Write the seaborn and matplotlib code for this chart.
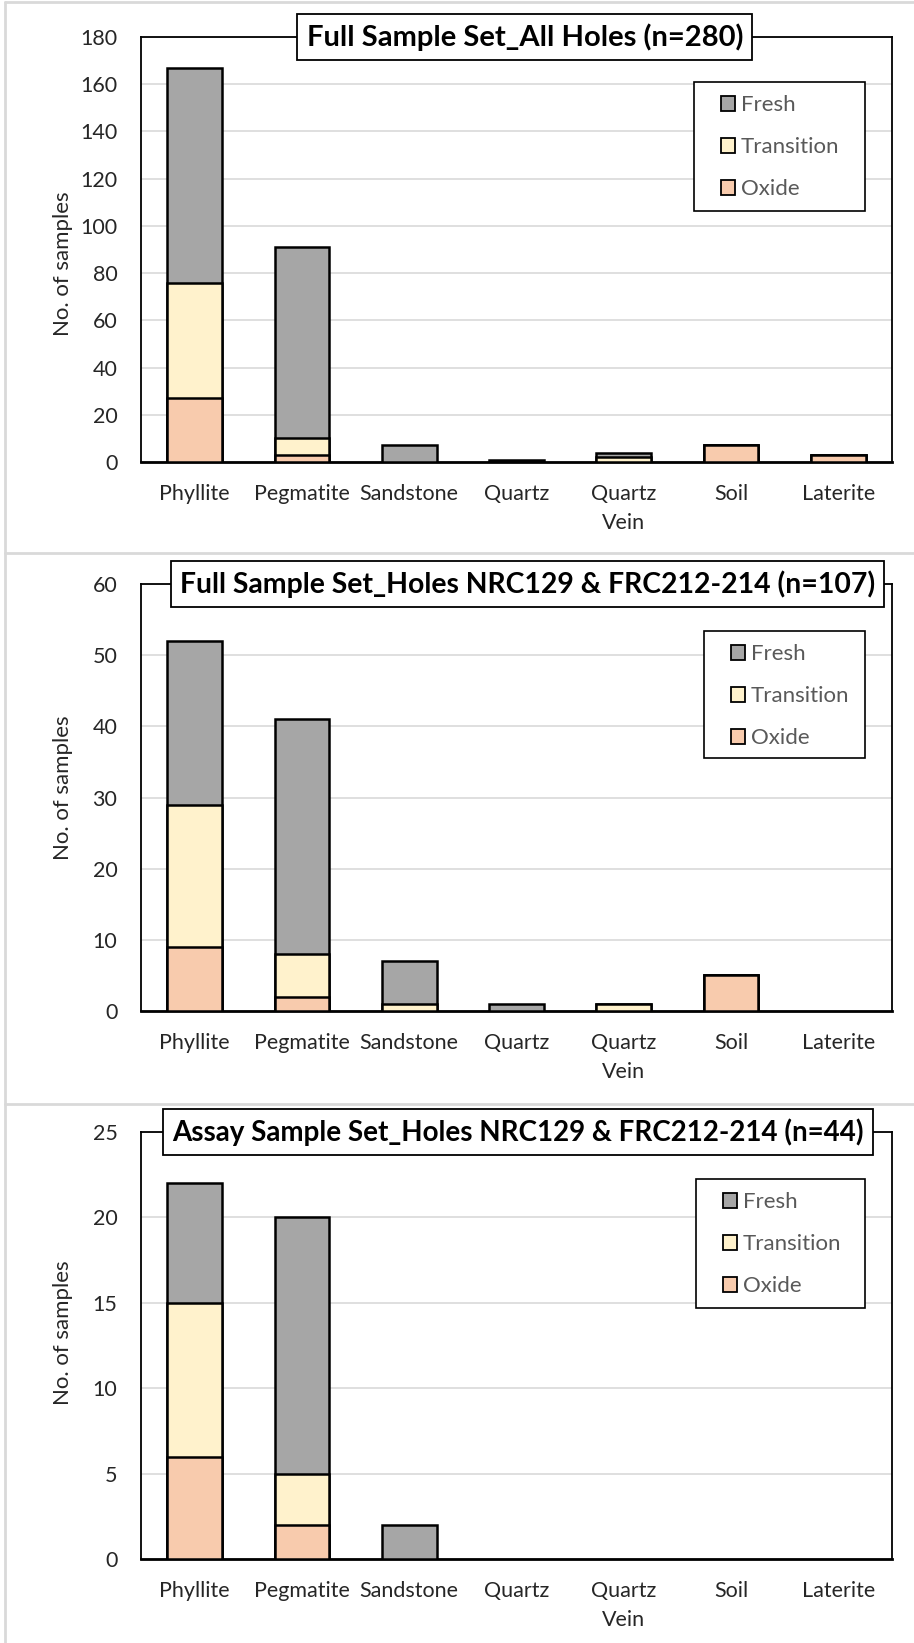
import numpy as np
import pandas as pd
import matplotlib
matplotlib.use("Agg")
import matplotlib.pyplot as plt
from matplotlib.patches import Patch, Rectangle
from matplotlib.lines import Line2D
import seaborn as sns

categories = ["Phyllite", "Pegmatite", "Sandstone", "Quartz", "Quartz\nVein", "Soil", "Laterite"]
classes = ["Fresh", "Transition", "Oxide"]

# Panel 1: all holes
p1_oxide = [27, 3, 0, 0, 0, 7, 3]
p1_transition = [49, 7, 0, 0, 2, 0, 0]
p1_fresh = [91, 81, 7, 1, 2, 0, 0]

# Panel 2: holes NRC129 & FRC212-214
p2_oxide = [9, 2, 0, 0, 0, 5, 0]
p2_transition = [20, 6, 1, 0, 1, 0, 0]
p2_fresh = [23, 33, 6, 1, 0, 0, 0]

# Panel 3: assay samples, holes NRC129 & FRC212-214
p3_oxide = [6, 2, 0, 0, 0, 0, 0]
p3_transition = [9, 3, 0, 0, 0, 0, 0]
p3_fresh = [7, 15, 2, 0, 0, 0, 0]

titles = [
    "Full Sample Set_All Holes (n=280)",
    "Full Sample Set_Holes NRC129 & FRC212-214 (n=107)",
    "Assay Sample Set_Holes NRC129 & FRC212-214 (n=44)",
]
y_max = [180, 60, 25]
y_step = [20, 10, 5]

colors = {"Fresh": "#a6a6a6", "Transition": "#fff2cc", "Oxide": "#f8cbad"}
text_color = "#262626"

sns.set_theme(style="white")
plt.rcParams["font.family"] = ["Lato", "DejaVu Sans"]

W, H = 914, 1643
fig = plt.figure(figsize=(W / 100, H / 100), dpi=100)

panels = [
    (p1_oxide, p1_transition, p1_fresh),
    (p2_oxide, p2_transition, p2_fresh),
    (p3_oxide, p3_transition, p3_fresh),
]
# plot areas in pixels: left, top, right, bottom
plot_px = [(141, 37, 892, 462), (141, 584, 892, 1011), (141, 1132, 892, 1559)]
# legend boxes in pixels: left, top, right, bottom
legend_px = [(694, 82, 865, 211), (704, 631, 865, 758), (696, 1179, 865, 1308)]
title_x = [0.511, 0.515, 0.502]
title_size = [21.0, 20.4, 20.0]
ylabel_y = [0.466, 0.522, 0.529]

for i, (oxide, transition, fresh) in enumerate(panels):
    l, t, r, b = plot_px[i]
    ax = fig.add_axes([l / W, 1 - b / H, (r - l) / W, (b - t) / H])
    ox = np.array(oxide, float)
    tr = ox + np.array(transition, float)
    fr = tr + np.array(fresh, float)
    # stacked bars: draw cumulative totals from the top layer down
    for vals, name in [(fr, "Fresh"), (tr, "Transition"), (ox, "Oxide")]:
        v = np.where(vals > 0, vals, np.nan)
        df = pd.DataFrame({"rock": categories, "count": v})
        sns.barplot(data=df, x="rock", y="count", order=categories,
                    color=colors[name], saturation=1, width=0.51,
                    edgecolor="black", linewidth=1.8, ax=ax, zorder=3)
    ax.set_ylim(0, y_max[i])
    ax.set_xlim(-0.5, 6.5)
    ax.set_yticks(np.arange(0, y_max[i] + 0.1, y_step[i]))
    ax.yaxis.grid(True, color="#d9d9d9", linewidth=1.2, zorder=0)
    ax.xaxis.grid(False)
    ax.set_axisbelow(True)
    for s in ax.spines.values():
        s.set_visible(True)
        s.set_color("black")
        s.set_linewidth(1.3)
    ax.spines["bottom"].set_linewidth(2.0)
    ax.tick_params(axis="x", length=0, labelsize=15.5, colors=text_color, pad=16)
    ax.tick_params(axis="y", length=0, labelsize=15.5, colors=text_color, pad=17)
    for lab in ax.get_xticklabels():
        lab.set_linespacing(1.55)
    ax.set_xlabel("")
    ax.set_ylabel("No. of samples", fontsize=16, color=text_color)
    ax.yaxis.set_label_coords(-0.091, ylabel_y[i])
    ax.text(title_x[i], 1.0, titles[i], transform=ax.transAxes, ha="center", va="center",
            fontsize=title_size[i], fontweight="bold", color="black", zorder=10,
            bbox=dict(boxstyle="square,pad=0.32", fc="white", ec="black", lw=1.3))

    # legend frame
    ll, lt, lr, lb = legend_px[i]
    fig.add_artist(Rectangle((ll / W, 1 - lb / H), (lr - ll) / W, (lb - lt) / H,
                             transform=fig.transFigure, fc="white", ec="black",
                             lw=1.2, zorder=20))
    handles = [Patch(facecolor=colors[c], edgecolor="black", linewidth=1.3, label=c) for c in classes]
    leg = fig.legend(handles=handles, loc="upper left",
                     bbox_to_anchor=((ll + 27) / W, 1 - (lt + 13) / H),
                     frameon=False, fontsize=16, labelcolor="#595959",
                     handlelength=0.65, handleheight=0.65, handletextpad=0.25,
                     labelspacing=1.0, borderpad=0, borderaxespad=0)
    leg.set_zorder(21)

# chart area borders
border = "#d9d9d9"
for y in [2, 553, 1104]:
    fig.add_artist(Line2D([5 / W, 1], [1 - y / H] * 2, transform=fig.transFigure,
                          color=border, linewidth=2))
fig.add_artist(Line2D([5 / W] * 2, [0, 1 - 2 / H], transform=fig.transFigure,
                      color=border, linewidth=2))

fig.savefig("out.png", dpi=100)
